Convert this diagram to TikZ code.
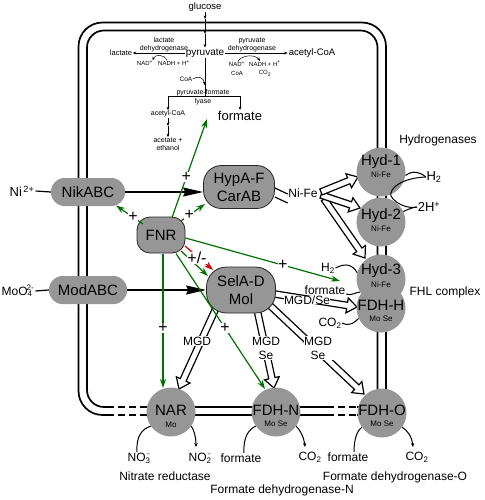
\documentclass[tikz,border=0pt]{standalone}
\usepackage{fontspec}
\setmainfont{Liberation Sans}
\usetikzlibrary{arrows.meta,calc}
\pgfdeclarelayer{bg}
\pgfsetlayers{bg,main}
\definecolor{ngray}{RGB}{150,150,150}
\definecolor{dgreen}{RGB}{0,112,0}
\definecolor{dred}{RGB}{215,0,0}
\newcommand\fs[2]{\fontsize{#1}{#2}\selectfont}
\newcommand\hollow[2]{%
  \coordinate (hh) at ($(#2)!10pt!(#1)$);
  \filldraw[hol] ($(#1)!3.2pt!90:(#2)$) -- ($(hh)!3.2pt!90:(#2)$) -- ($(hh)!7.5pt!90:(#2)$) -- (#2) -- ($(hh)!7.5pt!-90:(#2)$) -- ($(hh)!3.2pt!-90:(#2)$) -- ($(#1)!3.2pt!-90:(#2)$) -- cycle;}
\begin{document}
\begin{tikzpicture}[x=1pt,y=-1pt,
  lbl/.style={inner sep=0.5pt, font=\fs{12}{14}},
  sm/.style={inner sep=0.3pt, font=\fs{7}{8}, align=center},
  tiny/.style={inner sep=0.3pt, font=\fs{6}{8.5}, align=center},
  bignode/.style={fill=ngray, font=\fs{15}{18}, align=center, inner sep=0pt},
  circ/.style={fill=ngray, circle, minimum size=49pt, inner sep=0pt},
  ctext/.style={inner sep=0pt, font=\fs{15}{15}},
  csub/.style={inner sep=0pt, font=\fs{8}{8}},
  pill/.style={bignode, rectangle, rounded corners=13.5pt, minimum height=28pt},
  box/.style={bignode, rectangle, draw=black!85, line width=0.8pt},
  mem/.style={line width=1.7pt},
  memd/.style={mem, dash pattern=on 7pt off 4pt},
  hol/.style={fill=white, draw=black, line width=1.2pt, line join=miter},
  barrow/.style={line width=1.4pt, -{Stealth[length=20pt,width=9pt,inset=2pt]}},
  garrow/.style={dgreen, line width=1.2pt, -{Stealth[length=9pt,width=6pt]}},
  rarrow/.style={dred, line width=1.2pt, -{Stealth[length=9pt,width=6pt]}},
  plus/.style={fill=white, text=black, inner sep=0.3pt, font=\fs{16}{16}},
  tarrow/.style={line width=0.5pt, -{Stealth[length=3.5pt,width=2.8pt]}},
  thinl/.style={line width=0.6pt},
  curv/.style={line width=1pt},
  curva/.style={line width=1pt, -{Stealth[length=4pt,width=3.5pt]}},
]
\useasboundingbox (0,0) rectangle (484,500);

% ---------- membrane and block arrows (background) ----------
\begin{pgfonlayer}{bg}
  \draw[mem, rounded corners=24pt] (107,415) -- (78.5,415) -- (78.5,22.5) -- (386,22.5) -- (386,413);
  \draw[memd] (107,415) -- (147,415);
  \draw[mem] (147,415) -- (327,415);
  \draw[memd] (327,415) -- (357,415);
  \draw[mem] (357,415) -- (386,415);
  \draw[mem, rounded corners=17pt] (107,407) -- (87,407) -- (87,30.5) -- (377.5,30.5) -- (377.5,407);
  \draw[memd] (107,407) -- (147,407);
  \draw[mem] (147,407) -- (327,407);
  \draw[memd] (327,407) -- (357,407);
  \draw[mem] (357,407) -- (377.5,407);

  \coordinate (s3) at (324,199); \coordinate (t3) at (365,258);
  \coordinate (s2) at (321,195); \coordinate (t2) at (360,208);
  \coordinate (s1) at (321,192); \coordinate (t1) at (358,177);
  \hollow{s3}{t3}
  \hollow{s2}{t2}
  \hollow{s1}{t1}

  \coordinate (sa) at (222,295); \coordinate (ta) at (179,389);
  \coordinate (sb) at (255,300); \coordinate (tb) at (274,388);
  \coordinate (sc) at (262,298); \coordinate (tc) at (364,394);
  \coordinate (sd) at (262,292); \coordinate (td) at (357,307);
  \hollow{sa}{ta}
  \hollow{sb}{tb}
  \hollow{sc}{tc}
  \hollow{sd}{td}
\end{pgfonlayer}

% ---------- glycolysis / fermentation at top ----------
\node[inner sep=0.5pt, font=\fs{9.5}{11}] (glucose) at (205,7) {glucose};
\node[inner sep=1pt, font=\fs{10}{12}] (pyruvate) at (205,53) {pyruvate};
\coordinate (g1) at (205,19);
\coordinate (g2) at (205,34);
\draw[tarrow] (glucose.south) -- (g1);
\draw[tarrow] (g1) -- (g2);
\draw[tarrow] (g2) -- (pyruvate.north);

\node[inner sep=0.5pt, font=\fs{7.5}{9}] (lactate) at (121,53) {lactate};
\node[sm] (ldh) at (164,45) {lactate\\dehydrogenase};
\draw[tarrow] (pyruvate.west) -- (lactate.east);
\node[tiny] (nadl) at (145,63) {NAD\textsuperscript{+}};
\node[tiny] (nadhl) at (174,63) {NADH + H\textsuperscript{+}};
\draw[tarrow] ($(nadhl.north)+(-7,0.5)$) .. controls (164,54) and (155,54) .. ($(nadl.north east)+(-1,0.5)$);

\node[sm] (pdh) at (252,45) {pyruvate\\dehydrogenase};
\node[inner sep=1pt, font=\fs{9.5}{11}] (acoa) at (312,53) {acetyl-CoA};
\draw[tarrow] (pyruvate.east) -- (acoa.west);
\node[tiny] (nadr) at (237,68.5) {NAD\textsuperscript{+}\\CoA};
\node[tiny] (nadhr) at (265,68.5) {NADH + H\textsuperscript{+}\\CO\textsubscript{2}};
\draw[tarrow] ($(nadr.north)+(1,0.5)$) .. controls (241,55) and (255,54) .. ($(nadhr.north)+(-5,0.5)$);

\coordinate (pfl) at (205,96);
\draw[thinl] (pyruvate.south) -- (pfl);
\node[tiny, font=\fs{6.5}{8}] (coa) at (186,79) {CoA};
\draw[tarrow] (coa.east) .. controls (198,75) and (204,78) .. (204.6,85);
\coordinate (pfll) at (168,96);
\coordinate (pflr) at (240,96);
\draw[thinl] (pfll) -- (pflr);
\node[sm] (pfltxt) at (203,92.5) {pyruvate-formate};
\node[sm] (lyase) at (203,101.5) {lyase};
\node[sm] (acoa2) at (168,114) {acetyl-CoA};
\node[inner sep=1pt, font=\fs{13}{15}] (formate) at (240,116) {formate};
\draw[tarrow] (pfll) -- (acoa2.north);
\draw[tarrow] (pflr) -- (formate.north);
\node[sm] (acet) at (168,144) {acetate +\\ethanol};
\coordinate (am) at (168,126);
\draw[tarrow] (acoa2.south) -- (am);
\draw[tarrow] (am) -- (acet.north);

% ---------- main nodes ----------
\node[pill, minimum width=74pt] (nik) at (88,192) {NikABC};
\node[pill, minimum width=78pt] (mod) at (88,290) {ModABC};
\node[box, rounded corners=13pt, minimum width=48pt, minimum height=36pt] (fnr) at (161,235) {FNR};
\node[box, rounded corners=18pt, minimum width=71pt, minimum height=43pt] (hyp) at (239,187) {HypA-F\\CarAB};
\node[box, rounded corners=20pt, minimum width=69pt, minimum height=46pt] (sel) at (241,290) {SelA-D\\Mol};

\node[circ] (hyd1) at (381,172) {};
\node[circ] (hyd2) at (381,222) {};
\node[circ] (hyd3) at (381,279) {};
\node[circ] (fdhh) at (381,308) {};
\node[circ] (nar) at (171,412) {};
\node[circ] (fdhn) at (276,412) {};
\node[circ] (fdho) at (382,413) {};

\node[ctext] (hyd1t) at (381,162) {Hyd-1};
\node[csub] (hyd1s) at (381,175) {Ni-Fe};
\node[ctext] (hyd2t) at (381,216) {Hyd-2};
\node[csub] (hyd2s) at (381,229) {Ni-Fe};
\node[ctext] (hyd3t) at (381,271) {Hyd-3};
\node[csub] (hyd3s) at (381,285) {Ni-Fe};
\node[ctext] (fdhht) at (381,305) {FDH-H};
\node[csub] (fdhhs) at (381,319) {Mo Se};
\node[ctext] (nart) at (171,410) {NAR};
\node[csub] (nars) at (171,425) {Mo};
\node[ctext] (fdhnt) at (276,410) {FDH-N};
\node[csub] (fdhns) at (276,424) {Mo Se};
\node[ctext] (fdhot) at (382,410) {FDH-O};
\node[csub] (fdhos) at (382,424) {Mo Se};

% ---------- ions ----------
\node[inner sep=1pt, font=\fs{13}{15}] (ni) at (22,191) {Ni\textsuperscript{\,2+}};
\draw[line width=1.2pt] (ni.east) -- (nik.west);
\node[inner sep=1pt, font=\fs{12}{14}] (moo) at (18,291) {MoO\textsubscript{4}\kern-0.5em\textsuperscript{2-}};
\draw[line width=1.2pt] (moo.east) -- (mod.west);

% ---------- black arrows ----------
\draw[barrow] (nik.east) -- (hyp.west |- nik.east);
\draw[barrow] (mod.east) -- (sel.west |- mod.east);

% Ni-Fe double line
\node[lbl] (nife) at (303,193) {Ni-Fe};
\draw[line width=1.2pt] ($(hyp.east)+(0,1)$) -- ($(nife.west)+(0,1)$);
\draw[line width=1.2pt] ($(hyp.east)+(0,10)$) -- ($(nife.west)+(0,10)$);

% labels on block arrows
\node[lbl, fill=white] (mgd1) at (197,341) {MGD};
\node[lbl, fill=white, align=center] (mgd2) at (266,348) {MGD\\Se};
\node[lbl, fill=white, align=center] (mgd3) at (318,348) {MGD\\Se};
\node[lbl, fill=white, inner sep=0pt] (mgd4) at (307,300) {MGD/Se};

% ---------- FNR regulation ----------
\coordinate (f1) at (172,217.5); \coordinate (fe) at (207,119);
\draw[garrow] (f1) -- node[plus, pos=0.41] {+} (fe);
\coordinate (f2) at (143,224); \coordinate (nk) at (116,205.5);
\draw[garrow] (f2) -- node[plus, pos=0.37] {+} (nk);
\coordinate (f3) at (181,221); \coordinate (hp) at (205,204);
\draw[garrow] (f3) -- node[plus, pos=0.35] {+} (hp);
\coordinate (f4) at (185,246); \coordinate (sl1) at (213,270);
\coordinate (f5) at (181,251); \coordinate (sl2) at (208,276);
\draw[rarrow] (f4) -- (sl1);
\draw[garrow] (f5) -- (sl2);
\node[plus] (pm) at (197,258) {+/-};
\coordinate (f6) at (185.5,238); \coordinate (h3) at (340,281);
\draw[garrow] (f6) -- node[plus, pos=0.63] {+} (h3);
\coordinate (f7) at (163,253.5); \coordinate (nr) at (163,388);
\draw[garrow] (f7) -- node[plus, pos=0.555] {+} (nr);
\coordinate (f8) at (176,253.5); \coordinate (fn) at (265,389);
\draw[garrow] (f8) -- node[plus, pos=0.55] {+} (fn);

% ---------- hydrogenase reactions ----------
\node[inner sep=0.5pt, font=\fs{13}{15}] (h2a) at (434,177) {H\textsubscript{2}};
\node[inner sep=0.5pt, font=\fs{13}{15}] (h2b) at (429,207) {2H\textsuperscript{+}};
\draw[curv] (hyd1.-8) .. controls (413,170) and (420,172) .. (h2a.west);
\draw[curv] (h2a.west) .. controls (402,178) and (389,188) .. (391,196) .. controls (396,205) and (410,209) .. (h2b.west);
\draw[curv] (hyd2.25) .. controls (410,208) and (416,207) .. (h2b.west);

\node[inner sep=0.5pt, font=\fs{12}{14}] (h2c) at (328,268) {H\textsubscript{2}};
\node[lbl] (formh) at (325,290) {formate};
\node[lbl] (co2h) at (330,323) {CO\textsubscript{2}};
\draw[curv] (h2c.east) .. controls (345,263) and (352,264) .. (hyd3.165);
\draw[curv] ($(formh.south east)+(0,-1)$) .. controls (352,296) and (356,292) .. (hyd3.212);
\draw[curv] (co2h.east) .. controls (350,327) and (355,322) .. (fdhh.205);

\node[lbl] (hydlab) at (438,140) {Hydrogenases};
\node[lbl] (fhl) at (445,292) {FHL complex};

% ---------- periplasmic reactions ----------
\node[lbl] (no3) at (139,458) {NO\textsubscript{3}\kern-0.3em\textsuperscript{-}};
\node[lbl] (no2) at (200,458) {NO\textsubscript{2}\kern-0.3em\textsuperscript{-}};
\coordinate (no2t) at (196,447);
\draw[curv] ($(no3.north)+(-2,0)$) .. controls (136,436) and (142,429) .. (nar.215);
\draw[curva] (nar.-35) .. controls (194,430) and (196,437) .. (no2t);

\node[lbl] (formn) at (241,458) {formate};
\node[lbl] (co2n) at (310,457) {CO\textsubscript{2}};
\coordinate (co2nt) at (305,447);
\draw[curv] ($(formn.north)+(3,0)$) .. controls (243,437) and (249,429) .. (fdhn.215);
\draw[curva] (fdhn.-35) .. controls (300,430) and (304,437) .. (co2nt);

\node[lbl] (formo) at (348,457) {formate};
\node[lbl] (co2o) at (417,457) {CO\textsubscript{2}};
\coordinate (co2ot) at (413,447);
\draw[curv] ($(formo.north)+(6,0)$) .. controls (354,437) and (358,430) .. (fdho.215);
\draw[curva] (fdho.-35) .. controls (408,431) and (412,437) .. (co2ot);

\node[lbl] (nitlab) at (165,476) {Nitrate reductase};
\node[lbl] (fdhnlab) at (282,490) {Formate dehydrogenase-N};
\node[lbl] (fdholab) at (395,477) {Formate dehydrogenase-O};
\end{tikzpicture}
\end{document}
